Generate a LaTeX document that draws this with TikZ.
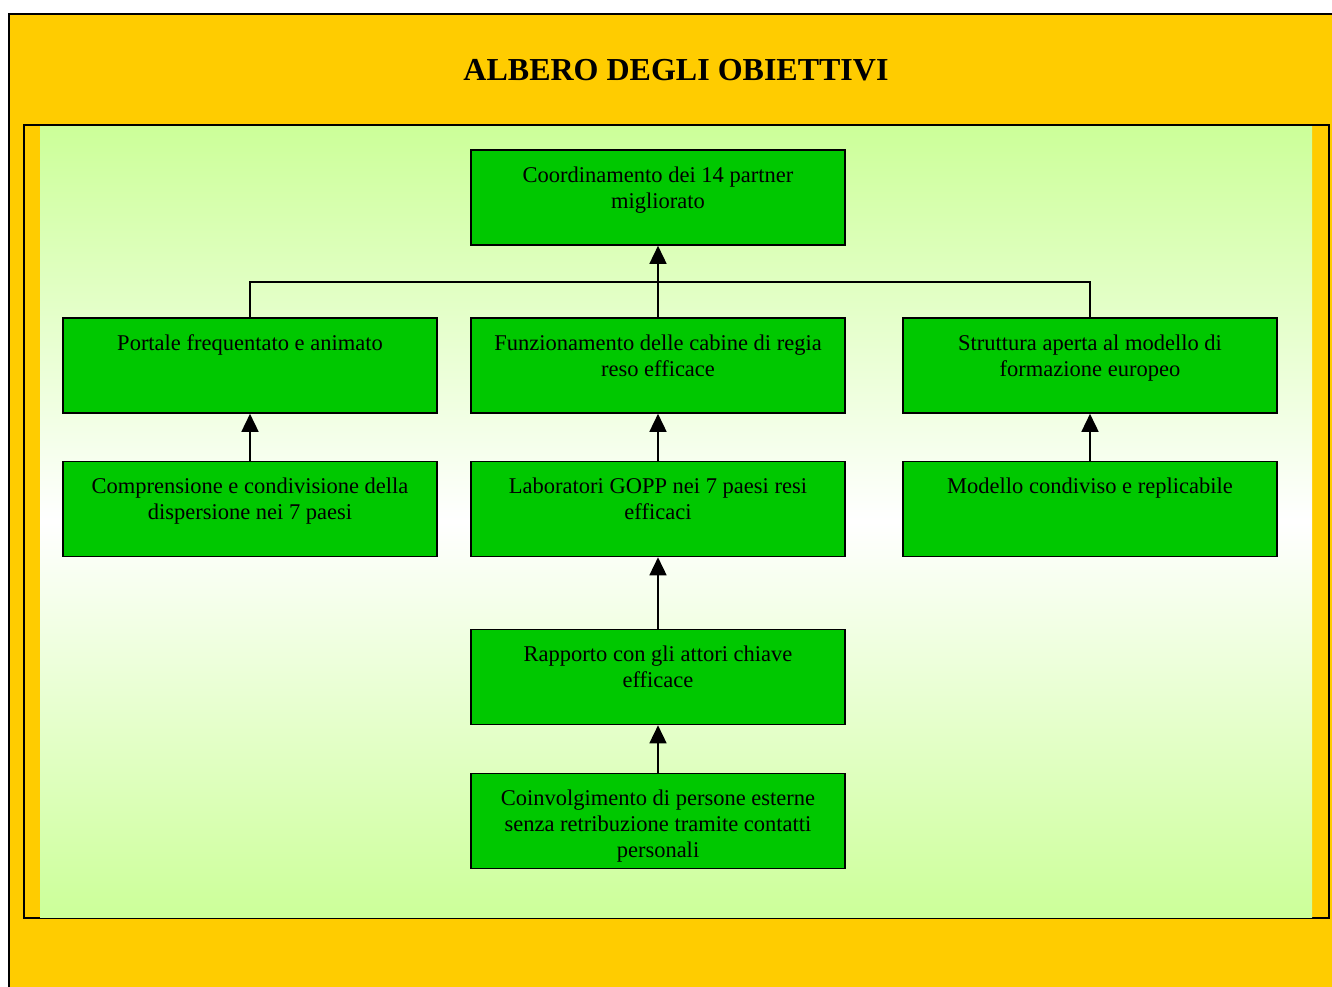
\documentclass[tikz,border=0pt]{standalone}
\usepackage{fontspec}
\setmainfont{Liberation Serif}
\usepackage{xcolor}
\usepackage{tikz}
\usetikzlibrary{arrows.meta, positioning, calc}

\definecolor{frameorange}{HTML}{FFCC00}
\definecolor{boxgreen}{HTML}{00C800}
\definecolor{palegreen}{HTML}{CCFF99}

\newcommand{\objtext}[1]{\parbox[c][67pt][t]{360pt}{\centering\strut #1}}

\begin{document}
\begin{tikzpicture}[x=1pt, y=-1pt,
    obj/.style={draw, fill=boxgreen, line width=1.6pt, minimum width=374pt, minimum height=95pt,
        inner sep=0pt, font=\fontsize{22.5}{26}\selectfont},
    link/.style={line width=1.6pt},
    uplink/.style={link, -{Triangle[length=18pt, width=17pt]}}]
    \useasboundingbox (0,0) rectangle (1332,986);
    \clip (0,0) rectangle (1332,986);

    % background and frames
    \draw[fill=frameorange, line width=2.5pt] (9,14) rectangle (1345,1000);
    \draw[fill=frameorange, line width=2pt] (23.5,125) rectangle (1328.5,918);
    \shade[top color=palegreen, bottom color=palegreen, middle color=white] (40,126) rectangle (1312,917);

    % title
    \node[font=\fontsize{32}{36}\selectfont\bfseries] (title) at (676,70) {ALBERO DEGLI OBIETTIVI};

    % objectives
    \node[obj] (coord) at (658,197.5) {\objtext{Coordinamento dei 14 partner\\migliorato}};
    \node[obj] (portale) at (250,365.5) {\objtext{Portale frequentato e animato}};
    \node[obj] (cabine) at (658,365.5) {\objtext{Funzionamento delle cabine di regia\\reso efficace}};
    \node[obj] (struttura) at (1090,365.5) {\objtext{Struttura aperta al modello di\\formazione europeo}};
    \node[obj] (comprensione) at (250,509) {\objtext{Comprensione e condivisione della\\dispersione nei 7 paesi}};
    \node[obj] (laboratori) at (658,509) {\objtext{Laboratori GOPP nei 7 paesi resi\\efficaci}};
    \node[obj] (modello) at (1090,509) {\objtext{Modello condiviso e replicabile}};
    \node[obj] (rapporto) at (658,677) {\objtext{Rapporto con gli attori chiave\\efficace}};
    \node[obj] (coinvolg) at (658,821) {\objtext{Coinvolgimento di persone esterne\\senza retribuzione tramite contatti\\personali}};

    % links
    \coordinate (junc) at (658,282);
    \draw[link] (portale.north) |- (junc) -| (struttura.north);
    \draw[uplink] (cabine.north) -- (coord.south);
    \draw[uplink] (comprensione.north) -- (portale.south);
    \draw[uplink] (laboratori.north) -- (cabine.south);
    \draw[uplink] (modello.north) -- (struttura.south);
    \draw[uplink] (rapporto.north) -- (laboratori.south);
    \draw[uplink] (coinvolg.north) -- (rapporto.south);
\end{tikzpicture}
\end{document}
